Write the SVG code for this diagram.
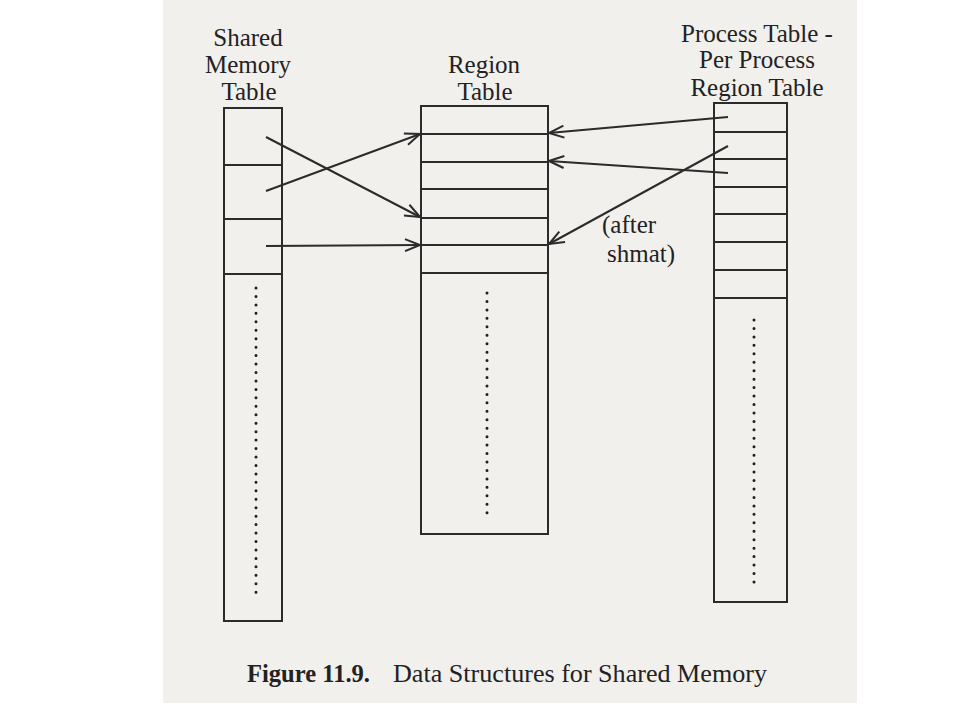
<svg xmlns="http://www.w3.org/2000/svg" width="960" height="720" viewBox="0 0 960 720">
  <defs>
    <marker id="ah" markerUnits="userSpaceOnUse" markerWidth="18" markerHeight="14" refX="16" refY="7" orient="auto">
      <path d="M1,1 L16,7 L1,13" fill="none" stroke="#2b2b2b" stroke-width="2"/>
    </marker>
  </defs>
  <style>
    .box { fill: none; stroke: #2b2b2b; stroke-width: 2; }
    .row { stroke: #2b2b2b; stroke-width: 2; }
    .dots { stroke: #1e1e1e; stroke-width: 3; stroke-linecap: round; stroke-dasharray: 0 8.45; fill: none; }
    .lbl { font-family: "Liberation Serif", "DejaVu Serif", serif; font-size: 25px; fill: #222; text-anchor: middle; }
    .note { font-family: "Liberation Serif", "DejaVu Serif", serif; font-size: 25px; fill: #222; }
    .arrow { stroke: #2b2b2b; stroke-width: 2; fill: none; marker-end: url(#ah); }
    .cap { font-family: "Liberation Serif", "DejaVu Serif", serif; font-size: 25px; fill: #222; }
  </style>
  <rect x="0" y="0" width="960" height="720" fill="#ffffff"/>
  <rect x="163" y="0" width="694" height="703" fill="#f2f0ed"/>

  <g id="shared-memory-table">
    <text class="lbl" x="248" y="46">Shared</text>
    <text class="lbl" x="248" y="73">Memory</text>
    <text class="lbl" x="249" y="100">Table</text>
    <rect class="box" x="224" y="108" width="58" height="513"/>
    <line class="row" x1="224" y1="165" x2="282" y2="165"/>
    <line class="row" x1="224" y1="219" x2="282" y2="219"/>
    <line class="row" x1="224" y1="274" x2="282" y2="274"/>
    <line class="dots" x1="256" y1="288" x2="256" y2="593"/>
  </g>

  <g id="region-table">
    <text class="lbl" x="484" y="73">Region</text>
    <text class="lbl" x="485" y="100">Table</text>
    <rect class="box" x="421" y="106" width="127" height="428"/>
    <line class="row" x1="421" y1="134" x2="548" y2="134"/>
    <line class="row" x1="421" y1="162" x2="548" y2="162"/>
    <line class="row" x1="421" y1="189" x2="548" y2="189"/>
    <line class="row" x1="421" y1="218" x2="548" y2="218"/>
    <line class="row" x1="421" y1="245" x2="548" y2="245"/>
    <line class="row" x1="421" y1="273" x2="548" y2="273"/>
    <line class="dots" x1="487" y1="293" x2="487" y2="520"/>
  </g>

  <g id="process-region-table">
    <text class="lbl" x="757" y="42">Process Table -</text>
    <text class="lbl" x="757" y="68">Per Process</text>
    <text class="lbl" x="757" y="96">Region Table</text>
    <rect class="box" x="714" y="103" width="73" height="499"/>
    <line class="row" x1="714" y1="132" x2="787" y2="132"/>
    <line class="row" x1="714" y1="159" x2="787" y2="159"/>
    <line class="row" x1="714" y1="187" x2="787" y2="187"/>
    <line class="row" x1="714" y1="214" x2="787" y2="214"/>
    <line class="row" x1="714" y1="242" x2="787" y2="242"/>
    <line class="row" x1="714" y1="270" x2="787" y2="270"/>
    <line class="row" x1="714" y1="298" x2="787" y2="298"/>
    <line class="dots" x1="754" y1="320" x2="754" y2="589"/>
  </g>

  <g id="connectors">
    <line class="arrow" x1="266" y1="137" x2="420" y2="217"/>
    <line class="arrow" x1="266" y1="191" x2="420" y2="134"/>
    <line class="arrow" x1="266" y1="246" x2="420" y2="245"/>
    <line class="arrow" x1="728" y1="117" x2="549" y2="133"/>
    <line class="arrow" x1="728" y1="173" x2="549" y2="161"/>
    <line class="arrow" x1="728" y1="146" x2="549" y2="244"/>
  </g>

  <g id="after-shmat-label">
    <text class="note" x="602" y="233">(after</text>
    <text class="note" x="607" y="262">shmat)</text>
  </g>

  <g id="caption">
    <text class="cap" x="247" y="682" font-weight="bold" textLength="123" lengthAdjust="spacingAndGlyphs">Figure 11.9.</text>
    <text class="cap" x="393" y="682" textLength="374" lengthAdjust="spacingAndGlyphs">Data Structures for Shared Memory</text>
  </g>
</svg>
